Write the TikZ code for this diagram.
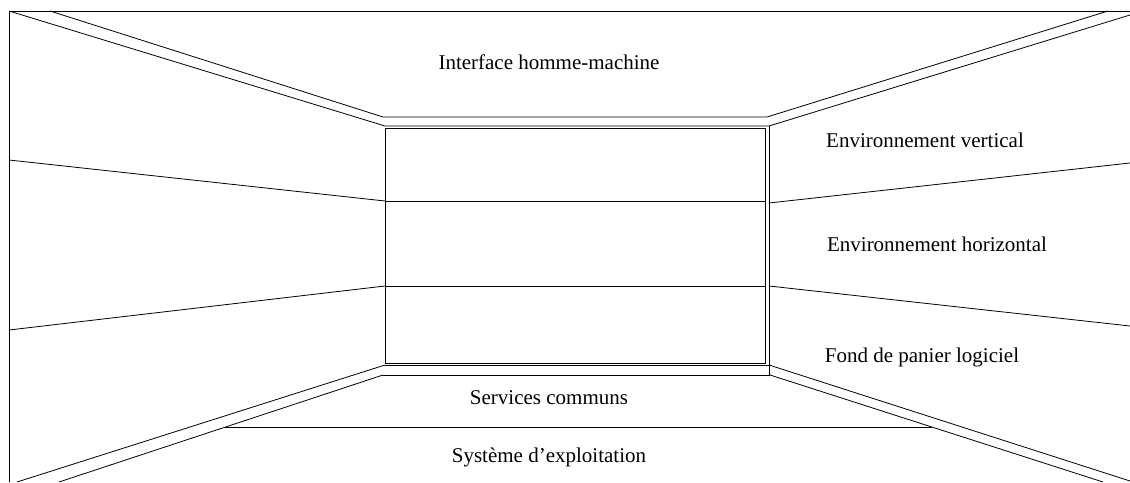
\documentclass[tikz,border=0pt]{standalone}
\usepackage{fontspec}
\setmainfont{Liberation Serif}
\begin{document}
\begin{tikzpicture}[x=1pt,y=-1pt,
  ln/.style={line width=0.8pt,black},
  lbl/.style={inner sep=0pt,font=\fontsize{21}{25}\selectfont}]
\useasboundingbox (0,0) rectangle (1130,482);
% frame
\coordinate (TL) at (9,11);
\coordinate (TR) at (1130,11);
\coordinate (BL) at (9,482);
\draw[ln] (BL) -- (TL) -- (TR);
% ceiling
\coordinate (c1) at (50,11);
\coordinate (c2) at (383,117);
\coordinate (c3) at (767,117);
\coordinate (c4) at (1108,11);
\draw[ln] (c1) -- (c2) -- (c3) -- (c4);
\coordinate (w1) at (385,126);
\coordinate (w2) at (769,126);
\coordinate (w2e) at (1130,15);
\draw[ln] (TL) -- (w1) -- (w2) -- (w2e);
% back wall
\draw[ln] (385,128) rectangle (765,363);
\draw[ln] (w2) -- (769,375);
\coordinate (f1) at (385,365);
\coordinate (f2) at (769,365);
\draw[ln] (f1) -- (f2);
\coordinate (g1) at (383,375);
\coordinate (g2) at (770,375);
\draw[ln] (g1) -- (g2);
\draw[ln] (385,201) -- (765,201);
\draw[ln] (385,286) -- (765,286);
% side walls
\draw[ln] (9,160) -- (385,201);
\draw[ln] (9,330) -- (385,286);
\draw[ln] (769,203) -- (1130,163);
\draw[ln] (769,286) -- (1130,326);
% floor
\draw[ln] (f1) -- (17,482);
\draw[ln] (g1) -- (59,482);
\draw[ln] (f2) -- (1130,481);
\draw[ln] (g2) -- (1103,482);
\draw[ln] (225,427) -- (932,427);
% labels
\node[lbl] (ihm) at (549,62) {Interface homme-machine};
\node[lbl] (ev) at (925,140) {Environnement vertical};
\node[lbl] (eh) at (937,244) {Environnement horizontal};
\node[lbl] (fp) at (922,357) {Fond de panier logiciel};
\node[lbl] (sc) at (549,398) {Services communs};
\node[lbl] (se) at (549,457) {Système d’exploitation};
\end{tikzpicture}
\end{document}
